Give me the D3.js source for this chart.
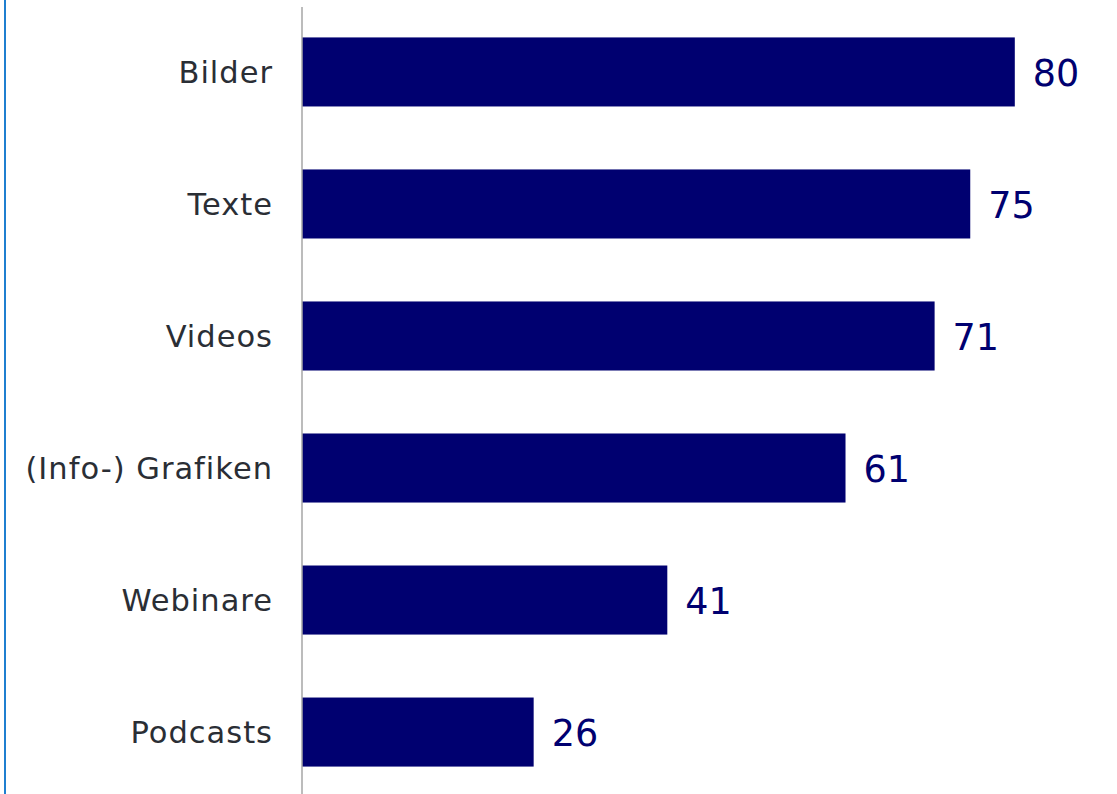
<!DOCTYPE html>
<html>
<head>
<meta charset="utf-8">
<script src="https://cdn.jsdelivr.net/npm/d3@7"></script>
<style>
  html, body { margin: 0; padding: 0; background: #fff; }
  svg { display: block; }
</style>
</head>
<body>
<svg id="chart" width="1117" height="794"></svg>
<script>
// Genutzte Content-Formate (Anteil in %)
const categories = ["Bilder", "Texte", "Videos", "(Info-) Grafiken", "Webinare", "Podcasts"];
const values = [80, 75, 71, 61, 41, 26];

const W = 1117, H = 794;
const svg = d3.select("#chart");

const x = d3.scaleLinear().domain([0, 100]).range([302, 1193]);
const y = d3.scaleBand().domain(categories).range([6, 798]).paddingInner(0.477).paddingOuter(0.238);

// left frame edge
svg.append("line")
  .attr("x1", 5).attr("x2", 5).attr("y1", 0).attr("y2", H)
  .attr("stroke", "#1f7fd0").attr("stroke-width", 2);

// bars
svg.append("g").selectAll("rect")
  .data(values)
  .join("rect")
  .attr("x", x(0))
  .attr("y", (d, i) => y(categories[i]))
  .attr("width", d => x(d) - x(0))
  .attr("height", y.bandwidth())
  .attr("fill", "#000070");

// category axis
const yAxis = svg.append("g")
  .attr("transform", `translate(${x(0)},0)`)
  .call(d3.axisLeft(y).tickSize(0).tickPadding(29));
yAxis.select(".domain").remove();
yAxis.selectAll("text")
  .attr("fill", "#2a2e35")
  .attr("dy", "0.36em")
  .style("font-family", "'DejaVu Sans', Verdana, sans-serif")
  .style("font-size", "30.5px")
  .style("letter-spacing", "1px");

svg.append("line")
  .attr("x1", x(0)).attr("x2", x(0)).attr("y1", 7).attr("y2", H)
  .attr("stroke", "#a6a6a6").attr("stroke-width", 1.5);

// value labels
svg.append("g").selectAll("text")
  .data(values)
  .join("text")
  .attr("x", d => x(d) + 18)
  .attr("y", (d, i) => y(categories[i]) + y.bandwidth() / 2)
  .attr("dy", "0.39em")
  .attr("fill", "#000070")
  .style("font-family", "'DejaVu Sans', Verdana, sans-serif")
  .style("font-size", "36.5px")
  .text(d => d);
</script>
</body>
</html>
